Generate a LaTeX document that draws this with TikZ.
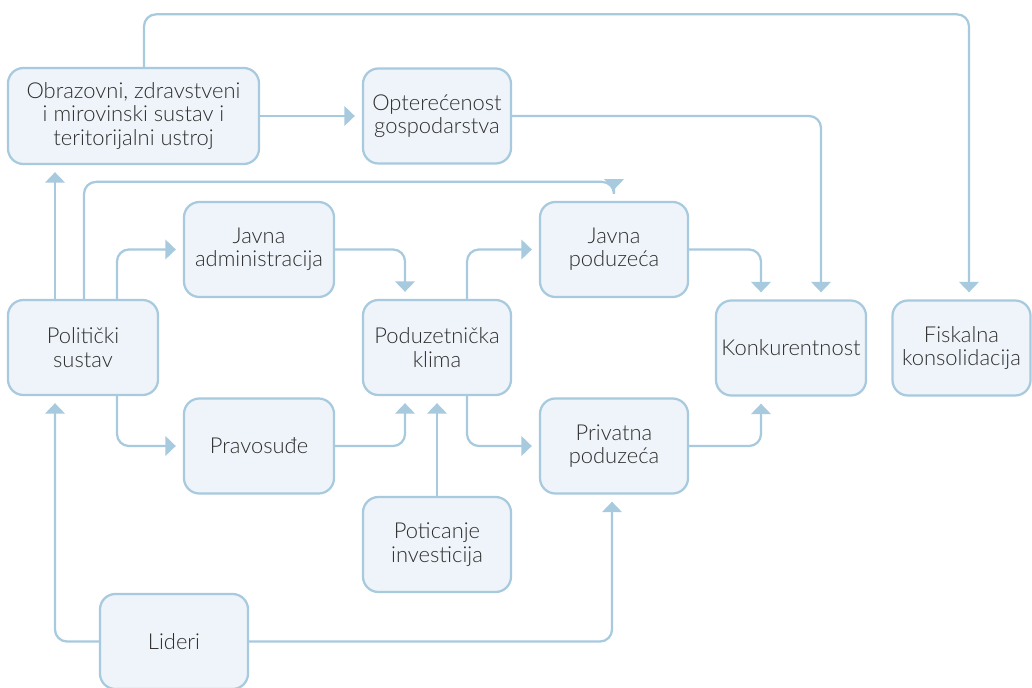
\documentclass[tikz,border=0pt]{standalone}
\usepackage{fontspec}
\setmainfont{Lato Light}
\usetikzlibrary{positioning,arrows.meta,calc}
\definecolor{figline}{RGB}{167,202,222}
\definecolor{figfill}{RGB}{238,244,249}
\definecolor{figtext}{RGB}{45,45,45}
\tikzset{
  fig/.style={x=0.025cm,y=-0.025cm},
  box/.style={draw=figline,fill=figfill,line width=1.6pt,rounded corners=11pt,
              minimum height=2.375cm,minimum width=3.7cm,align=center,inner sep=2pt,
              text=figtext,font=\fontsize{15.6}{16.6}\selectfont},
  widebox/.style={box,minimum width=3.75cm},
  ln/.style={-{Triangle[length=7.5pt,width=14pt]},draw=figline,line width=1.6pt,
             rounded corners=8.5pt,shorten >=5pt},
}
\begin{document}
\begin{tikzpicture}[fig]
\useasboundingbox (0,0) rectangle (1032,688);

\node[box,minimum width=6.275cm,minimum height=2.4cm] (obr) at (133.5,116) {Obrazovni, zdravstveni\\i mirovinski sustav i\\teritorijalni ustroj};
\node[box] (opt) at (437,116) {Opterećenost\\gospodarstva};
\node[widebox] (jadm) at (259,249.5) {Javna\\administracija};
\node[box] (jpod) at (614,249.5) {Javna\\poduzeća};
\node[widebox] (pol) at (83,347.5) {Politički\\sustav};
\node[box] (klima) at (437,347.5) {Poduzetnička\\klima};
\node[widebox] (konk) at (791,348) {Konkurentnost};
\node[box,minimum width=3.45cm] (fisk) at (961.5,348) {Fiskalna\\konsolidacija};
\node[widebox] (prav) at (259,446) {Pravosuđe};
\node[box] (priv) at (614,446) {Privatna\\poduzeća};
\node[box] (pot) at (437,544.5) {Poticanje\\investicija};
\node[box] (lid) at (174,641.5) {Lideri};

\draw[ln] ($(obr.north)+(10.5,0)$) |- ($(fisk.north)+(7.5,-285)$) -- ($(fisk.north)+(7.5,0)$);
\draw[ln] (obr.east) -- (opt.west);
\draw[ln] (opt.east) -| ($(konk.north)+(30,0)$);
\draw[ln] ($(pol.north)+(-28,0)$) -- ($(obr.south)+(-78.5,0)$);
\draw[ln,shorten >=8pt] ($(pol.north)+(1,0)$) |- ($(jpod.north)+(0,-19)$) -- (jpod.north);
\draw[ln] ($(pol.north)+(34,0)$) |- (jadm.west);
\draw[ln] ($(pol.south)+(34,0)$) |- (prav.west);
\draw[ln] (jadm.east) -| ($(klima.north)+(-32,0)$);
\draw[ln] (prav.east) -| ($(klima.south)+(-32,0)$);
\draw[ln] (pot.north) -- (klima.south);
\draw[ln] ($(klima.north)+(30,0)$) |- (jpod.west);
\draw[ln] ($(klima.south)+(30,0)$) |- (priv.west);
\draw[ln] (jpod.east) -| ($(konk.north)+(-30,0)$);
\draw[ln] (priv.east) -| ($(konk.south)+(-30,0)$);
\draw[ln] (lid.west) -| ($(pol.south)+(-28,0)$);
\draw[ln] (lid.east) -| ($(priv.south)+(-2,0)$);

\end{tikzpicture}
\end{document}
